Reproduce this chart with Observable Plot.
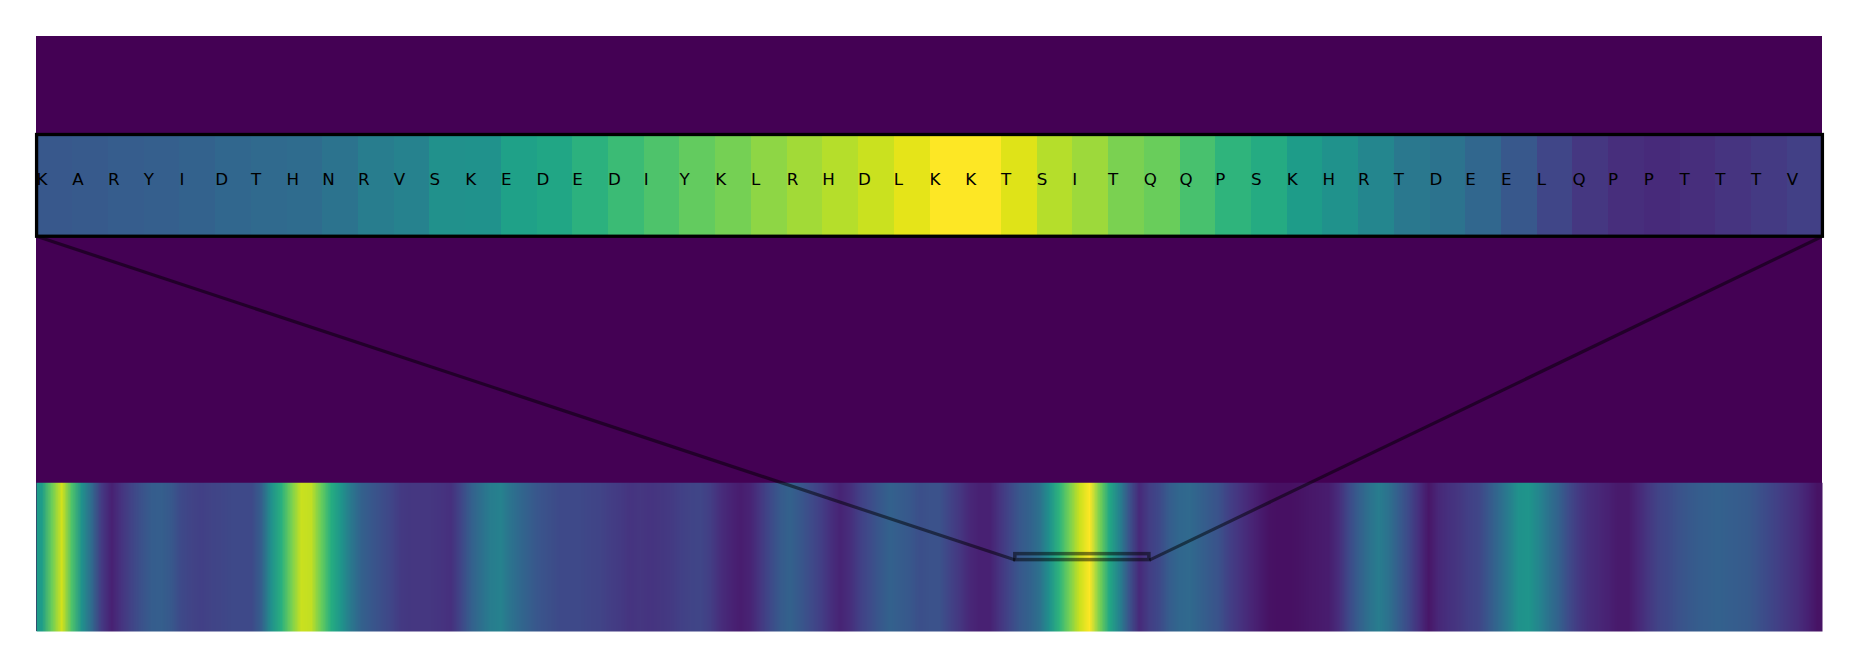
<!DOCTYPE html>
<html><head><meta charset="utf-8">
<script src="https://cdn.jsdelivr.net/npm/d3@7"></script>
<script src="https://cdn.jsdelivr.net/npm/@observablehq/plot@0.6"></script>
<style>
html,body{margin:0;padding:0;background:#fff;overflow:hidden;}
#chart{position:relative;width:1857px;height:667px;}
#chart svg{max-width:none;display:block;}
#inset{position:absolute;}
</style></head><body><div id="chart"><div id="inset"></div></div>
<script>
// ---- data ----
const seqLength = 666;            // residues in the full sequence
const windowStart = 365;          // first residue of the zoomed window
const windowEnd = 415;            // end of the zoomed window (50 residues)

const letters = "KARYIDTHNRVSKEDEDIYKLRHDLKKTSITQQPSKHRTDEELQPPTTTV".split("");

const insetValues = [
  0.27,0.28,0.29,0.30,0.31,0.33,0.34,0.35,0.38,0.42,
  0.44,0.50,0.51,0.57,0.59,0.64,0.68,0.72,0.76,0.79,
  0.83,0.86,0.89,0.92,0.96,1.00,1.00,0.95,0.89,0.855,
  0.80,0.77,0.71,0.65,0.61,0.55,0.51,0.46,0.40,0.38,
  0.33,0.27,0.21,0.16,0.13,0.12,0.13,0.15,0.17,0.19
];

// profile along the whole sequence, read at regular steps
const profile = [
  0.55,0.77,0.93,0.72,0.51,0.34,0.17,0.09,0.15,0.20,
  0.25,0.29,0.30,0.27,0.22,0.20,0.19,0.20,0.21,0.22,
  0.22,0.22,0.30,0.50,0.63,0.79,0.92,0.91,0.77,0.62,
  0.52,0.40,0.31,0.27,0.24,0.21,0.17,0.16,0.16,0.16,
  0.15,0.14,0.21,0.30,0.36,0.42,0.44,0.38,0.33,0.29,
  0.26,0.24,0.22,0.22,0.22,0.21,0.20,0.18,0.17,0.15,
  0.16,0.15,0.16,0.17,0.19,0.20,0.21,0.18,0.13,0.10,
  0.08,0.10,0.16,0.22,0.28,0.31,0.27,0.23,0.19,0.14,
  0.10,0.13,0.19,0.23,0.27,0.31,0.29,0.27,0.24,0.25,
  0.25,0.20,0.16,0.11,0.09,0.09,0.15,0.21,0.27,0.31,
  0.37,0.51,0.65,0.79,0.92,1.00,0.80,0.60,0.44,0.25,
  0.12,0.18,0.22,0.29,0.33,0.34,0.31,0.28,0.25,0.19,
  0.15,0.11,0.08,0.05,0.04,0.04,0.05,0.06,0.07,0.08,
  0.13,0.22,0.30,0.37,0.42,0.37,0.29,0.22,0.14,0.06,
  0.11,0.14,0.16,0.19,0.21,0.27,0.34,0.42,0.51,0.52,
  0.46,0.38,0.31,0.23,0.17,0.13,0.11,0.09,0.07,0.07,
  0.11,0.16,0.20,0.22,0.25,0.27,0.29,0.30,0.31,0.30,
  0.29,0.28,0.25,0.22,0.19,0.16,0.13,0.09,0.05
];

// ---- layout (main axes units: strip = 1 row, image = 4 rows) ----
const stripRows = 1, totalRows = 4;
const insetBottom = 2.657, insetTop = 3.341;
const boxHalf = 0.02;

const backgroundCell = [{x1: 0, x2: seqLength, y1: 0, y2: totalRows, v: 0}];
const zoomWindow = [{x1: windowStart, x2: windowEnd, y1: stripRows/2 - boxHalf, y2: stripRows/2 + boxHalf}];
const connectors = [
  {x1: 0, y1: insetBottom, x2: windowStart, y2: stripRows/2 - boxHalf},
  {x1: seqLength, y1: insetBottom, x2: windowEnd, y2: stripRows/2 - boxHalf}
];

const colorScale = {type: "linear", scheme: "viridis", domain: [0, 1]};

const mainPlot = Plot.plot({
  width: 1857, height: 667,
  marginLeft: 36, marginRight: 35, marginTop: 36, marginBottom: 36,
  x: {domain: [0, seqLength], axis: null},
  y: {domain: [0, totalRows], axis: null},
  color: colorScale,
  style: {background: "white", overflow: "visible"},
  marks: [
    Plot.rect(backgroundCell, {x1: "x1", x2: "x2", y1: "y1", y2: "y2", fill: "v"}),
    Plot.raster(profile, {width: profile.length, height: 1, x1: 0, x2: seqLength, y1: 0, y2: stripRows,
      fill: d => d, imageRendering: "auto"}),
    Plot.rect(zoomWindow, {x1: "x1", x2: "x2", y1: "y1", y2: "y2", fill: "none",
      stroke: "black", strokeOpacity: 0.5, strokeWidth: 3.5}),
    Plot.link(connectors, {x1: "x1", y1: "y1", x2: "x2", y2: "y2",
      stroke: "black", strokeOpacity: 0.5, strokeWidth: 3.2})
  ]
});
const chartDiv = document.getElementById("chart");
chartDiv.insertBefore(mainPlot, chartDiv.firstChild);

// ---- inset ----
const sx = mainPlot.scale("x"), sy = mainPlot.scale("y");
const insetLeftPx = sx.apply(0), insetRightPx = sx.apply(seqLength);
const insetTopPx = sy.apply(insetTop), insetBottomPx = sy.apply(insetBottom);
const pad = 4;
const insetPlot = Plot.plot({
  width: (insetRightPx - insetLeftPx) + 2*pad, height: (insetBottomPx - insetTopPx) + 2*pad,
  margin: pad,
  x: {domain: [0, letters.length], axis: null},
  y: {domain: [0, 1], axis: null},
  color: colorScale,
  style: {background: "transparent", overflow: "visible"},
  marks: [
    Plot.raster(insetValues, {width: insetValues.length, height: 1, x1: 0, x2: letters.length, y1: 0, y2: 1,
      fill: d => d, imageRendering: "pixelated"}),
    Plot.text(letters, {x: (d, i) => i, y: () => 0.5, text: d => d, textAnchor: "start", lineAnchor: "bottom",
      fontSize: 16.7, fontFamily: "DejaVu Sans", fill: "black"}),
    Plot.frame({stroke: "black", strokeWidth: 3.3})
  ]
});
const insetDiv = document.getElementById("inset");
insetDiv.style.left = (insetLeftPx - pad) + "px";
insetDiv.style.top = (insetTopPx - pad) + "px";
insetDiv.appendChild(insetPlot);
</script></body></html>
